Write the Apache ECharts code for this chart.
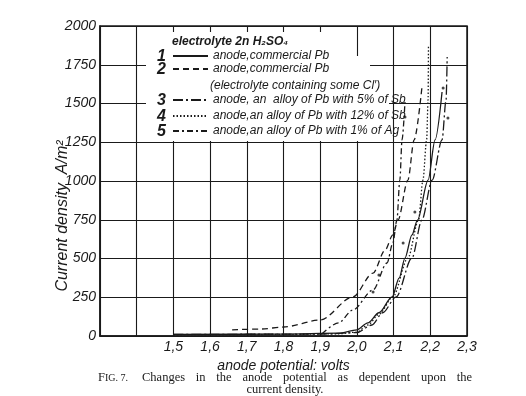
<!DOCTYPE html>
<html>
<head>
<meta charset="utf-8">
<title>Fig. 7</title>
<script src="https://cdn.jsdelivr.net/npm/echarts@6/dist/echarts.min.js"></script>
<style>
    html, body { margin: 0; padding: 0; background: #fff; }
    #chart { width: 526px; height: 396px; }
</style>
</head>
<body>
<div id="chart"></div>
<script>
// 数据: [anode potential (V), current density (A/m2)]
var curve1 = [[1.5, 10], [1.8, 12], [1.95, 18], [2.0, 40], [2.03, 85], [2.06, 150], [2.096, 252], [2.115, 374], [2.131, 503], [2.150, 652], [2.165, 748], [2.194, 1006], [2.213, 1265], [2.232, 1574]];
var curve2 = [[1.66, 40], [1.74, 45], [1.80, 58], [1.90, 103], [1.989, 252], [2.044, 406], [2.077, 555], [2.098, 652], [2.112, 748], [2.139, 1006], [2.156, 1265], [2.177, 1600]];
var curve3 = [[1.5, 10], [1.9, 12], [2.0, 22], [2.041, 71], [2.07, 150], [2.107, 252], [2.150, 503], [2.177, 748], [2.205, 1006], [2.232, 1265], [2.243, 1523], [2.246, 1800]];
var curve4 = [[1.5, 8], [1.8, 10], [1.95, 14], [2.0, 25], [2.03, 71], [2.06, 140], [2.098, 252], [2.139, 503], [2.168, 748], [2.180, 1006], [2.190, 1265], [2.194, 1523], [2.195, 1877]];
var curve5 = [[1.905, 15], [1.95, 85], [1.989, 168], [2.044, 297], [2.082, 471], [2.098, 600], [2.109, 748], [2.117, 1006], [2.123, 1265], [2.131, 1510]];
var points = [[2.235, 1600], [2.248, 1406], [2.158, 800], [2.126, 600], [2.060, 394], [2.044, 284], [2.131, 1413]];

var curveNames = ['1', '2', '3', '4', '5'];
var curveTexts = [
    'anode,commercial Pb',
    'anode,commercial Pb',
    'anode, an  alloy of Pb with 5% of Sb',
    'anode,an alloy of Pb with 12% of Sb',
    'anode,an alloy of Pb with 1% of Ag'
];
var curveDash = ['solid', [6, 4], [10, 3, 2, 3], [1.5, 2], [6, 3, 2, 3]];
var legendRowY = [57, 70, 101, 117, 132];

var xMin = 1.3, xMax = 2.3, xStep = 0.1;
var yMin = 0, yMax = 2000, yStep = 250;

var captionWords = ['Changes', 'in', 'the', 'anode', 'potential', 'as', 'dependent', 'upon', 'the'];

var ink = '#1a1a1a';
var hand = 'italic 12px "Liberation Sans", sans-serif';
var serif = '12.5px "Liberation Serif", serif';

drawChart();

//图注两端对齐：量出每个词的宽度再平均分配空隙
function captionLine(left, wordsLeft, right, y) {
    var ctx = document.createElement('canvas').getContext('2d');
    ctx.font = serif;
    var total = 0;
    for (var i = 0; i < captionWords.length; i++) total += ctx.measureText(captionWords[i]).width;
    var gap = (right - wordsLeft - total) / (captionWords.length - 1);
    var out = [];
    var x = wordsLeft;
    for (var j = 0; j < captionWords.length; j++) {
        out.push({ type: 'text', z: 6, style: { x: x, y: y, text: captionWords[j], font: serif, fill: ink, verticalAlign: 'middle' } });
        x += ctx.measureText(captionWords[j]).width + gap;
    }
    out.push({
        type: 'text', z: 6,
        style: {
            x: left, y: y, text: '{a|F}{b|IG. 7.}', fill: ink, verticalAlign: 'middle',
            rich: { a: { fontSize: 12.5, fontFamily: '"Liberation Serif", serif' }, b: { fontSize: 10, fontFamily: '"Liberation Serif", serif' } }
        }
    });
    return out;
}

function drawChart() {
    var myChart = echarts.init(document.getElementById('chart'));
    var allCurves = [curve1, curve2, curve3, curve4, curve5];

    var series = [];
    var legends = [];
    var graphics = [];

    // 图例底部白框（遮住网格线）
    graphics.push({
        type: 'polygon',
        z: 3,
        shape: { points: [[146, 32], [352, 32], [352, 56], [370, 56], [370, 70], [389, 70], [389, 141], [146, 141]] },
        style: { fill: '#fff', stroke: null }
    });
    graphics.push({
        type: 'text', z: 6,
        style: { x: 172, y: 42, text: 'electrolyte 2n H₂SO₄', font: 'italic bold 12px "Liberation Sans", sans-serif', fill: ink, verticalAlign: 'middle' }
    });
    graphics.push({
        type: 'text', z: 6,
        style: { x: 210, y: 86, text: '(electrolyte containing some Cl′)', font: hand, fill: ink, verticalAlign: 'middle' }
    });

    for (var i = 0; i < allCurves.length; i++) {
        series.push({
            name: curveNames[i],
            type: 'line',
            data: allCurves[i],
            symbol: 'none',
            smooth: 0.3,
            smoothMonotone: 'x',
            lineStyle: { color: ink, width: 1.3, type: curveDash[i] },
            itemStyle: { color: ink },
            z: 2
        });
        legends.push({
            data: [curveNames[i]],
            left: 172,
            top: legendRowY[i] - 7,
            padding: 0,
            itemWidth: 35,
            itemHeight: 14,
            z: 6,
            selectedMode: false,
            itemStyle: { opacity: 0 },
            formatter: (function (t) { return function () { return t; }; })(curveTexts[i]),
            textStyle: { color: ink, fontStyle: 'italic', fontSize: 12, fontFamily: '"Liberation Sans", sans-serif', padding: [0, 0, 0, 0] }
        });
        graphics.push({
            type: 'text', z: 6,
            style: { x: 166, y: legendRowY[i], text: curveNames[i], font: 'italic bold 16px "Liberation Sans", sans-serif', fill: ink, align: 'right', verticalAlign: 'middle' }
        });
    }

    // 实验点
    series.push({
        name: 'points',
        type: 'scatter',
        data: points,
        symbolSize: 3,
        itemStyle: { color: ink },
        z: 3
    });

    // 纵轴名称
    graphics.push({
        type: 'text', z: 6,
        x: 63, y: 216, rotation: Math.PI / 2,
        style: { x: 0, y: 0, text: 'Current density  A/m²', font: 'italic 16px "Liberation Sans", sans-serif', fill: ink, align: 'center', verticalAlign: 'middle' }
    });
    // 图注
    graphics = graphics.concat(captionLine(98, 142, 472, 378));
    graphics.push({
        type: 'text', z: 6,
        style: { x: 285, y: 390, text: 'current density.', font: serif, fill: ink, align: 'center', verticalAlign: 'middle' }
    });

    var option = {
        backgroundColor: '#fff',
        animation: false,
        grid: {
            left: 100, right: 59, top: 26, bottom: 60,
            show: true, borderColor: ink, borderWidth: 1.5
        },
        legend: legends,
        xAxis: {
            type: 'value',
            min: xMin, max: xMax, interval: xStep,
            name: 'anode potential: volts',
            nameLocation: 'middle',
            nameGap: 23,
            nameTextStyle: { color: ink, fontStyle: 'italic', fontSize: 14, fontFamily: '"Liberation Sans", sans-serif' },
            axisLine: { show: true, lineStyle: { color: ink, width: 1.5 } },
            axisTick: { show: false },
            axisLabel: {
                color: ink, fontStyle: 'italic', fontSize: 14, margin: 4,
                fontFamily: '"Liberation Sans", sans-serif',
                formatter: function (v) {
                    if (v < 1.45) return '';
                    return v.toFixed(1).replace('.', ',');
                }
            },
            splitLine: { show: true, lineStyle: { color: ink, width: 1.1 } }
        },
        yAxis: {
            type: 'value',
            min: yMin, max: yMax, interval: yStep,
            axisLine: { show: true, lineStyle: { color: ink, width: 1.5 } },
            axisTick: { show: false },
            axisLabel: {
                color: ink, fontStyle: 'italic', fontSize: 14, margin: 4,
                fontFamily: '"Liberation Sans", sans-serif',
                formatter: function (v) { return String(v); }
            },
            splitLine: { show: true, lineStyle: { color: ink, width: 1.1 } }
        },
        graphic: graphics,
        series: series
    };
    // 使用刚指定的配置项和数据显示图表。
    myChart.setOption(option);
}
</script>
</body>
</html>
